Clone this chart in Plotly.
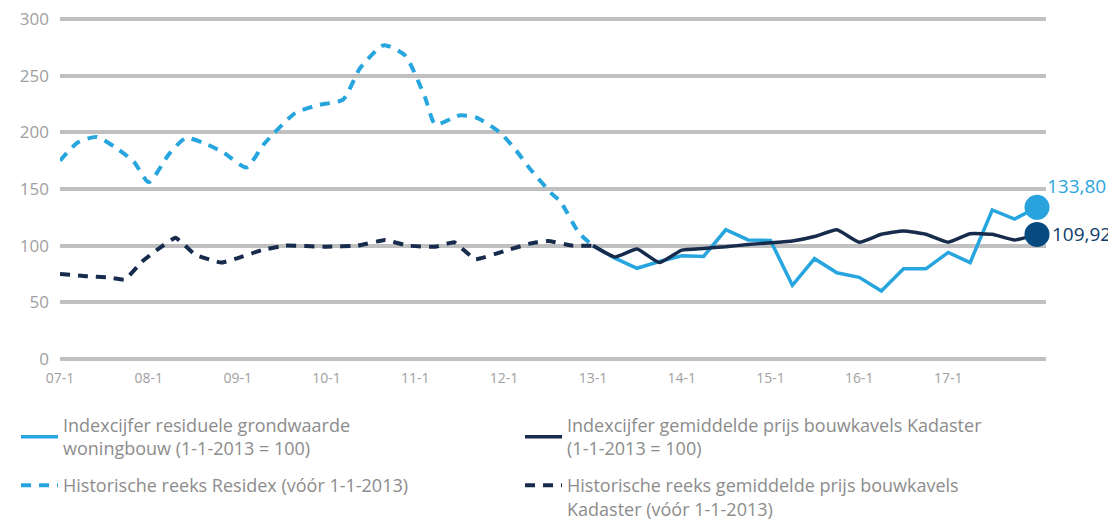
import plotly.graph_objects as go

# ---------------- data ----------------
quarters = ["2013-01-01", "2013-04-01", "2013-07-01", "2013-10-01",
            "2014-01-01", "2014-04-01", "2014-07-01", "2014-10-01",
            "2015-01-01", "2015-04-01", "2015-07-01", "2015-10-01",
            "2016-01-01", "2016-04-01", "2016-07-01", "2016-10-01",
            "2017-01-01", "2017-04-01", "2017-07-01", "2017-10-01",
            "2018-01-01"]
residual_index = [100, 89, 80, 86, 91, 90.5, 114, 105, 104.5, 65, 88.5,
                  76, 72, 60, 79.5, 79.5, 94, 85, 131.5, 123.5, 133.80]
kadaster_index = [100, 90, 97, 85, 96, 97.5, 99, 101, 102.5, 104, 108,
                  114, 103, 110, 113, 110, 103, 110.5, 110, 105, 109.92]

residex_dates = ["2007-01-01", "2007-03-15", "2007-06-01", "2007-08-15",
                 "2007-11-01", "2008-01-01", "2008-03-25", "2008-06-01",
                 "2008-08-10", "2008-11-05", "2009-02-05", "2009-04-20",
                 "2009-08-25", "2009-11-25", "2010-03-10", "2010-05-20",
                 "2010-08-25", "2010-11-20", "2011-02-10", "2011-03-25",
                 "2011-07-01", "2011-09-10", "2011-12-15", "2012-02-20",
                 "2012-04-20", "2012-07-15", "2012-08-20", "2012-11-05",
                 "2013-01-01"]
residex_values = [175, 191, 196, 187, 174, 156, 181, 195, 191, 182, 169,
                  190, 217, 224, 229, 257, 277, 268, 231, 207, 215, 213,
                  200, 184, 167, 146, 139, 111, 100]

kad_hist_dates = ["2007-01-01", "2007-04-20", "2007-07-15", "2007-09-25",
                  "2007-12-05", "2008-02-15", "2008-04-20", "2008-07-10",
                  "2008-10-25", "2009-01-01", "2009-04-10", "2009-07-15",
                  "2010-01-01", "2010-05-10", "2010-08-30", "2010-12-01",
                  "2011-03-25", "2011-06-10", "2011-09-05", "2012-01-15",
                  "2012-04-20", "2012-07-01", "2012-10-10", "2013-01-01"]
kad_hist_values = [75, 73, 72, 70, 86, 98, 107, 92, 85, 89, 96, 100,
                   99, 100, 105, 100, 99, 103, 88, 96, 102, 104, 100, 100]

tick_dates = ["2007-01-01", "2008-01-01", "2009-01-01", "2010-01-01",
              "2011-01-01", "2012-01-01", "2013-01-01", "2014-01-01",
              "2015-01-01", "2016-01-01", "2017-01-01"]
tick_labels = ["07-1", "08-1", "09-1", "10-1", "11-1", "12-1",
               "13-1", "14-1", "15-1", "16-1", "17-1"]
y_ticks = [0, 50, 100, 150, 200, 250, 300]

names = ["Indexcijfer residuele grondwaarde<br>woningbouw (1-1-2013 = 100)",
         "Indexcijfer gemiddelde prijs bouwkavels Kadaster<br>(1-1-2013 = 100)",
         "Historische reeks Residex (vóór 1-1-2013)",
         "Historische reeks gemiddelde prijs bouwkavels<br>Kadaster (vóór 1-1-2013)"]

LIGHT = "#27a5de"
DARK = "#172b4c"
DARK_MARK = "#064a7f"
FONT = "Open Sans"

fig = go.Figure()

fig.add_trace(go.Scatter(x=residex_dates, y=residex_values, mode="lines",
                         name=names[2], legend="legend2", legendrank=3,
                         line=dict(color=LIGHT, width=4, dash="10px,8px",
                                   shape="spline", smoothing=0.6)))
fig.add_trace(go.Scatter(x=kad_hist_dates, y=kad_hist_values, mode="lines",
                         name=names[3], legend="legend2", legendrank=4,
                         line=dict(color=DARK, width=4, dash="10px,8px",
                                   shape="spline", smoothing=0.3)))
fig.add_trace(go.Scatter(x=quarters, y=residual_index, mode="lines",
                         name=names[0], legend="legend", legendrank=1,
                         line=dict(color=LIGHT, width=3.5)))
fig.add_trace(go.Scatter(x=quarters, y=kadaster_index, mode="lines",
                         name=names[1], legend="legend", legendrank=2,
                         line=dict(color=DARK, width=3.5, shape="spline",
                                   smoothing=0.4)))

# end markers
fig.add_trace(go.Scatter(x=[quarters[-1]], y=[residual_index[-1]], mode="markers",
                         showlegend=False, cliponaxis=False,
                         marker=dict(color="#29a3dd", size=25)))
fig.add_trace(go.Scatter(x=[quarters[-1]], y=[kadaster_index[-1]], mode="markers",
                         showlegend=False, cliponaxis=False,
                         marker=dict(color=DARK_MARK, size=25)))

def fmt(v):
    return f"{v:.2f}".replace(".", ",")

fig.add_annotation(x=quarters[-1], y=residual_index[-1], text=fmt(residual_index[-1]),
                   showarrow=False, xanchor="left", yanchor="middle",
                   xshift=8, yshift=21, font=dict(color="#2aa6de", size=19, family=FONT))
fig.add_annotation(x=quarters[-1], y=kadaster_index[-1], text=fmt(kadaster_index[-1]),
                   showarrow=False, xanchor="left", yanchor="middle",
                   xshift=13, yshift=0, font=dict(color="#0d3d6a", size=19, family=FONT))

legend_common = dict(orientation="h", x=-0.0446, xanchor="left",
                     entrywidth=452, entrywidthmode="pixels", itemwidth=37,
                     font=dict(size=18, color="#8c8c8c", family=FONT),
                     traceorder="normal", tracegroupgap=0, maxheight=300,
                     bgcolor="rgba(0,0,0,0)")

# the page body adds an 8px offset; the figure is sized/margined to compensate
fig.update_layout(
    width=1108, height=512,
    margin=dict(l=52, r=70, t=10, b=160, autoexpand=False),
    plot_bgcolor="white", paper_bgcolor="white",
    font=dict(family=FONT, color="#9a9a9a"),
    showlegend=True,
    legend=dict(legend_common, y=-0.137, yanchor="top", valign="middle"),
    legend2=dict(legend_common, y=-0.313, yanchor="top", valign="top"),
)
fig.update_xaxes(type="date", range=["2007-01-01", "2018-02-07"],
                 tickvals=tick_dates, ticktext=tick_labels,
                 showgrid=False, zeroline=False, showline=False,
                 ticks="", ticklabelstandoff=8, ticklabeloverflow="allow",
                 tickfont=dict(size=14, color="#a0a0a0", family=FONT))
fig.update_yaxes(range=[-1, 301], tickvals=y_ticks,
                 showgrid=True, gridcolor="#c0c0c0", gridwidth=4,
                 zeroline=False, showline=False, ticks="", ticklabelstandoff=10,
                 ticklabeloverflow="allow",
                 tickfont=dict(size=17, color="#a0a0a0", family=FONT))

fig.write_html("out.html")
